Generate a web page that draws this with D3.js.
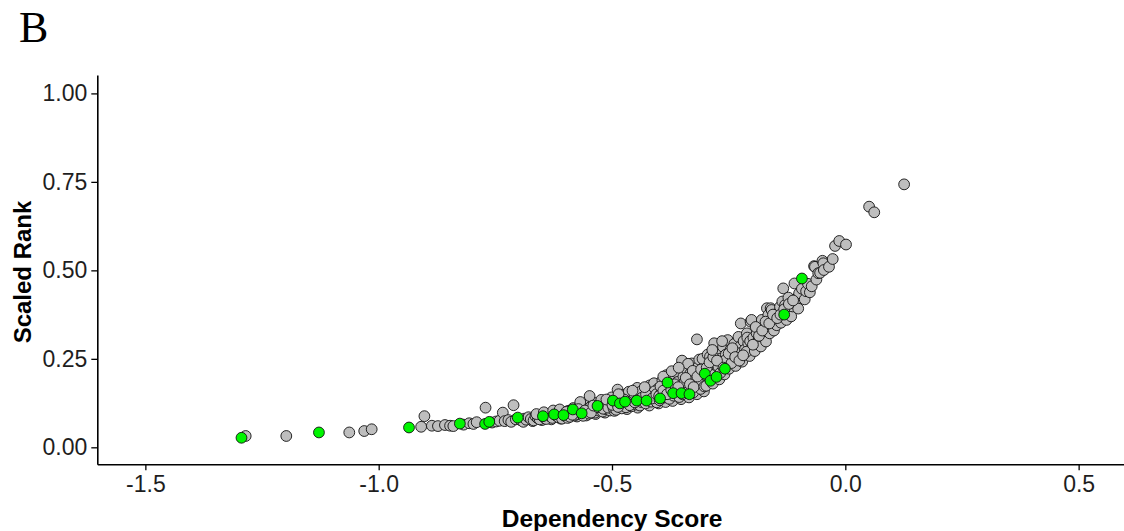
<!DOCTYPE html>
<html>
<head>
<meta charset="utf-8">
<script src="https://cdn.jsdelivr.net/npm/d3@7"></script>
<style>
  html, body { margin: 0; padding: 0; background: #fff; }
  svg { display: block; }
</style>
</head>
<body>
<svg id="chart" width="1124" height="531"></svg>
<script>
// Dependency score vs scaled rank for every gene; highlighted genes drawn in green
const xTicks = [-1.5, -1.0, -0.5, 0.0, 0.5];
const yTicks = [0.00, 0.25, 0.50, 0.75, 1.00];

// [dependency score, scaled rank] for all genes
const otherGenes = [
  [-1.285,0.032],[-1.198,0.032],[-1.063,0.042],[-1.031,0.046],[-1.015,0.051],
  [-0.909,0.058],[-0.902,0.088],[-0.886,0.061],[-0.873,0.060],[-0.858,0.063],[-0.847,0.061],[-0.840,0.060],
  [-0.818,0.064],[-0.806,0.068],[-0.797,0.066],[-0.790,0.071],[-0.771,0.112],[-0.757,0.070],[-0.748,0.073],
  [-0.741,0.075],[-0.734,0.098],[-0.730,0.074],[-0.722,0.077],[-0.711,0.119],[-0.716,0.072],[-0.706,0.079],
  [-0.695,0.076],[-0.688,0.081],[-0.690,0.072],[-0.670,0.074],[-0.650,0.077],[-0.630,0.079],[-0.610,0.081],
  [-0.684,0.078],[-0.679,0.085],[-0.674,0.080],[-0.668,0.076],[-0.664,0.088],[-0.659,0.082],[-0.655,0.079],
  [-0.651,0.091],[-0.645,0.084],[-0.641,0.080],[-0.637,0.093],[-0.632,0.087],[-0.628,0.083],[-0.623,0.097],
  [-0.619,0.089],[-0.615,0.085],[-0.611,0.094],[-0.607,0.081],[-0.603,0.098],[-0.600,0.088],
  [-0.662,0.094],[-0.646,0.099],[-0.626,0.104],[-0.612,0.107],
  [-0.595,0.083],[-0.575,0.087],[-0.555,0.090],[-0.535,0.094],[-0.515,0.098],
  [-0.597,0.092],[-0.594,0.103],[-0.590,0.086],[-0.587,0.097],[-0.583,0.111],[-0.580,0.090],[-0.577,0.101],
  [-0.573,0.094],[-0.570,0.115],[-0.566,0.106],[-0.562,0.089],[-0.559,0.099],[-0.556,0.120],[-0.552,0.108],
  [-0.549,0.095],[-0.546,0.114],[-0.542,0.102],[-0.539,0.126],[-0.536,0.098],[-0.533,0.110],[-0.529,0.104],
  [-0.526,0.121],[-0.523,0.134],[-0.520,0.101],[-0.517,0.115],[-0.513,0.108],[-0.510,0.128],[-0.507,0.119],
  [-0.504,0.104],[-0.501,0.141],[-0.548,0.145],[-0.568,0.128],
  [-0.598,0.100],[-0.585,0.092],[-0.572,0.108],[-0.558,0.104],[-0.545,0.098],[-0.530,0.113],[-0.519,0.109],
  [-0.508,0.112],[-0.540,0.118],[-0.512,0.135],
  [-0.495,0.103],[-0.468,0.108],[-0.445,0.112],[-0.420,0.118],[-0.400,0.124],[-0.385,0.128],[-0.370,0.131],
  [-0.352,0.136],[-0.335,0.141],[-0.318,0.150],[-0.303,0.158],
  [-0.497,0.112],[-0.494,0.125],[-0.491,0.106],[-0.488,0.163],[-0.485,0.118],[-0.482,0.137],[-0.479,0.110],
  [-0.476,0.148],[-0.473,0.121],[-0.470,0.113],[-0.467,0.142],[-0.464,0.157],[-0.461,0.126],[-0.458,0.116],
  [-0.455,0.134],[-0.452,0.150],[-0.449,0.121],[-0.446,0.168],[-0.443,0.139],[-0.440,0.118],[-0.437,0.128],
  [-0.434,0.155],[-0.431,0.145],[-0.428,0.124],[-0.425,0.162],[-0.422,0.136],[-0.419,0.175],[-0.416,0.129],
  [-0.413,0.149],[-0.410,0.181],[-0.407,0.141],[-0.404,0.127],[-0.401,0.166],[-0.478,0.128],[-0.439,0.157],
  [-0.421,0.146],[-0.409,0.158],
  [-0.499,0.120],[-0.487,0.114],[-0.474,0.135],[-0.462,0.119],[-0.451,0.127],[-0.436,0.140],[-0.427,0.150],
  [-0.414,0.138],[-0.405,0.150],[-0.486,0.150],[-0.456,0.160],[-0.430,0.170],
  [-0.398,0.133],[-0.395,0.152],[-0.392,0.189],[-0.389,0.171],[-0.386,0.141],[-0.383,0.204],[-0.380,0.160],
  [-0.377,0.137],[-0.374,0.178],[-0.371,0.195],[-0.368,0.146],[-0.365,0.166],[-0.362,0.212],[-0.359,0.185],
  [-0.356,0.142],[-0.353,0.174],[-0.350,0.245],[-0.347,0.200],[-0.344,0.160],[-0.341,0.222],[-0.338,0.186],
  [-0.335,0.168],[-0.332,0.209],[-0.329,0.237],[-0.326,0.155],[-0.323,0.196],[-0.320,0.177],[-0.318,0.305],
  [-0.316,0.226],[-0.313,0.248],[-0.310,0.165],[-0.307,0.210],[-0.304,0.190],[-0.301,0.236],[-0.396,0.172],
  [-0.379,0.182],[-0.361,0.160],[-0.345,0.184],[-0.337,0.236],[-0.327,0.216],[-0.315,0.182],[-0.306,0.250],
  [-0.399,0.145],[-0.390,0.160],[-0.382,0.150],[-0.373,0.162],[-0.366,0.178],[-0.358,0.170],[-0.349,0.150],
  [-0.342,0.196],[-0.333,0.178],[-0.325,0.170],[-0.317,0.200],[-0.309,0.220],[-0.302,0.172],[-0.390,0.200],
  [-0.372,0.215],[-0.357,0.225],
  [-0.298,0.174],[-0.295,0.262],[-0.292,0.196],[-0.290,0.256],[-0.287,0.221],[-0.284,0.180],[-0.281,0.294],
  [-0.279,0.240],[-0.276,0.212],[-0.273,0.268],[-0.270,0.192],[-0.267,0.251],[-0.265,0.231],[-0.262,0.284],
  [-0.259,0.206],[-0.256,0.262],[-0.253,0.240],[-0.252,0.303],[-0.249,0.222],[-0.246,0.276],[-0.243,0.261],
  [-0.240,0.249],[-0.238,0.292],[-0.235,0.230],[-0.232,0.270],[-0.229,0.312],[-0.226,0.284],[-0.226,0.266],
  [-0.224,0.350],[-0.221,0.242],[-0.218,0.300],[-0.215,0.276],[-0.211,0.322],[-0.208,0.294],[-0.205,0.258],
  [-0.203,0.355],[-0.201,0.360],[-0.200,0.283],[-0.288,0.205],[-0.272,0.228],[-0.258,0.245],[-0.244,0.238],
  [-0.230,0.252],[-0.212,0.270],
  [-0.297,0.225],[-0.291,0.240],[-0.283,0.255],[-0.275,0.245],[-0.268,0.210],[-0.261,0.225],[-0.250,0.265],
  [-0.242,0.280],[-0.236,0.255],[-0.227,0.245],[-0.219,0.260],[-0.210,0.310],[-0.204,0.300],[-0.285,0.275],
  [-0.264,0.300],
  [-0.197,0.310],[-0.194,0.272],[-0.190,0.322],[-0.188,0.296],[-0.186,0.303],[-0.183,0.331],[-0.181,0.285],
  [-0.179,0.360],[-0.176,0.314],[-0.173,0.342],[-0.170,0.299],[-0.168,0.341],[-0.168,0.393],[-0.165,0.374],
  [-0.162,0.322],[-0.160,0.393],[-0.158,0.388],[-0.156,0.351],[-0.153,0.330],[-0.151,0.369],[-0.151,0.360],
  [-0.147,0.345],[-0.144,0.380],[-0.140,0.397],[-0.138,0.352],[-0.135,0.412],[-0.133,0.449],[-0.129,0.402],
  [-0.126,0.360],[-0.124,0.385],[-0.122,0.423],[-0.119,0.388],[-0.116,0.370],[-0.113,0.398],[-0.109,0.463],
  [-0.108,0.407],[-0.104,0.420],[-0.101,0.392],[-0.099,0.430],[-0.099,0.435],
  [-0.198,0.290],[-0.192,0.340],[-0.185,0.315],[-0.178,0.330],[-0.171,0.355],[-0.163,0.350],[-0.155,0.375],
  [-0.146,0.365],[-0.139,0.375],[-0.131,0.390],[-0.121,0.405],[-0.112,0.415],
  [-0.093,0.448],[-0.087,0.418],[-0.084,0.441],[-0.080,0.462],[-0.076,0.438],[-0.072,0.455],[-0.067,0.512],
  [-0.065,0.510],[-0.062,0.474],[-0.058,0.492],[-0.054,0.493],[-0.049,0.527],[-0.047,0.520],[-0.046,0.501],
  [-0.035,0.510],[-0.027,0.532],[-0.022,0.569],[-0.013,0.583],[0.0015,0.573],[0.051,0.680],[0.062,0.664],
  [0.126,0.743]
];

// [dependency score, scaled rank] for the highlighted genes
const highlightedGenes = [
  [-1.294,0.027],[-1.128,0.042],[-0.935,0.056],[-0.826,0.067],[-0.772,0.066],[-0.763,0.072],[-0.702,0.084],
  [-0.648,0.088],[-0.624,0.093],[-0.604,0.091],[-0.584,0.107],[-0.565,0.096],[-0.531,0.117],[-0.498,0.132],
  [-0.483,0.124],[-0.472,0.129],[-0.447,0.132],[-0.426,0.132],[-0.397,0.138],[-0.381,0.183],[-0.369,0.153],
  [-0.351,0.153],[-0.334,0.150],[-0.301,0.208],[-0.289,0.188],[-0.276,0.199],[-0.258,0.222],[-0.131,0.375],
  [-0.093,0.477]
];

const svg = d3.select("#chart");
const FONT = "'Liberation Sans', Arial, sans-serif";

const x = d3.scaleLinear().domain([-1.603, 0.6]).range([97.3, 1125.3]);
const y = d3.scaleLinear().domain([-0.048, 1.052]).range([464.3, 75]);

// panel letter
svg.append("text")
  .attr("x", 19).attr("y", 42)
  .attr("font-family", "'Liberation Serif', 'Times New Roman', serif")
  .attr("font-size", 44)
  .attr("fill", "#000")
  .text("B");

// points: all genes in grey, highlighted genes on top in green
const pts = svg.append("g");
pts.selectAll("circle.other")
  .data(otherGenes).join("circle")
  .attr("class", "other")
  .attr("cx", d => x(d[0])).attr("cy", d => y(d[1]))
  .attr("r", 5.4)
  .attr("fill", "#BEBEBE")
  .attr("stroke", "#111").attr("stroke-width", 0.9);
pts.selectAll("circle.hl")
  .data(highlightedGenes).join("circle")
  .attr("class", "hl")
  .attr("cx", d => x(d[0])).attr("cy", d => y(d[1]))
  .attr("r", 5.4)
  .attr("fill", "#00F500")
  .attr("stroke", "#111").attr("stroke-width", 0.9);

// axes
const xAxis = svg.append("g")
  .attr("transform", "translate(0,464.3)")
  .call(d3.axisBottom(x).tickValues(xTicks).tickFormat(d => d.toFixed(1))
    .tickSizeInner(6).tickSizeOuter(0).tickPadding(5));
const yAxis = svg.append("g")
  .attr("transform", "translate(97.3,0)")
  .call(d3.axisLeft(y).tickValues(yTicks).tickFormat(d => d.toFixed(2))
    .tickSizeInner(6).tickSizeOuter(0).tickPadding(4));

[xAxis, yAxis].forEach(g => {
  g.select(".domain").attr("stroke", "#000").attr("stroke-width", 1.6);
  g.selectAll(".tick line").attr("stroke", "#000").attr("stroke-width", 1.3);
  g.selectAll(".tick text")
    .attr("font-family", FONT).attr("font-size", 23).attr("fill", "#1e1e1e");
});

// axis titles
svg.append("text")
  .attr("x", 612).attr("y", 527)
  .attr("text-anchor", "middle")
  .attr("font-family", FONT).attr("font-weight", "bold").attr("font-size", 24.5)
  .attr("fill", "#000")
  .text("Dependency Score");
svg.append("text")
  .attr("transform", "translate(31,272) rotate(-90)")
  .attr("text-anchor", "middle")
  .attr("font-family", FONT).attr("font-weight", "bold").attr("font-size", 24)
  .attr("fill", "#000")
  .text("Scaled Rank");
</script>
</body>
</html>
